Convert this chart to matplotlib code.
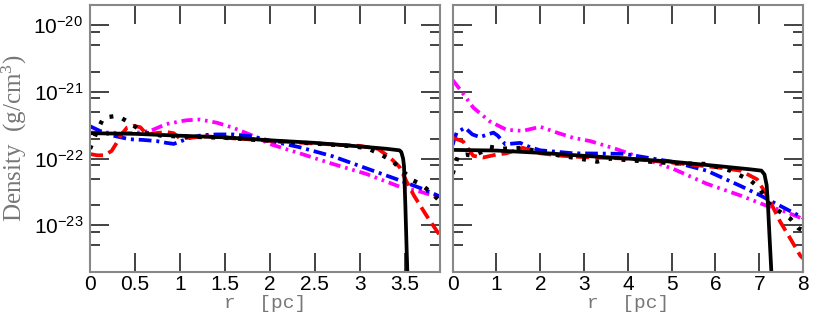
import matplotlib
matplotlib.use("Agg")
import matplotlib.pyplot as plt
from matplotlib.ticker import (FixedLocator, MultipleLocator, FormatStrFormatter,
                               NullFormatter, LogFormatterMathtext)

# ---------------- data: left panel ----------------
solid_L_r = [0, 0.5, 1.0, 1.5, 2.0, 2.5, 3.0, 3.3, 3.44, 3.46, 3.48, 3.49, 3.505, 3.52, 3.53]
solid_L_rho = [2.4e-22, 2.35e-22, 2.2e-22, 2.08e-22, 1.88e-22, 1.72e-22, 1.52e-22, 1.4e-22,
               1.33e-22, 1.25e-22, 1.0e-22, 7.7e-23, 2e-23, 4e-24, 1.5e-24]

dotted_L_r = [0, 0.03, 0.07, 0.15, 0.26, 0.33, 0.43, 0.52, 0.6, 0.8, 1.0, 1.5, 2.0, 2.5, 2.8,
              3.07, 3.22, 3.37, 3.44, 3.59, 3.67, 3.78, 3.89]
dotted_L_rho = [1.4e-22, 1.75e-22, 2.45e-22, 4.1e-22, 4.3e-22, 4.2e-22, 3.5e-22, 2.9e-22, 2.45e-22,
                2.2e-22, 2.15e-22, 2.05e-22, 1.85e-22, 1.68e-22, 1.58e-22, 1.45e-22, 1.18e-22,
                9e-23, 7.2e-23, 4.7e-23, 4.2e-23, 3.2e-23, 2.3e-23]

red_L_r = [0, 0.08, 0.16, 0.24, 0.3, 0.35, 0.41, 0.48, 0.56, 0.63, 0.72, 0.85, 0.93, 1.0, 1.1,
           1.3, 1.5, 2.0, 2.5, 2.8, 3.0, 3.2, 3.33, 3.44, 3.52, 3.6, 3.74, 3.89]
red_L_rho = [1.17e-22, 1.12e-22, 1.12e-22, 1.3e-22, 1.75e-22, 2.3e-22, 2.9e-22, 3.1e-22, 2.95e-22,
             2.3e-22, 2.4e-22, 2.5e-22, 2.4e-22, 2.0e-22, 2.05e-22, 2.15e-22, 2.05e-22, 1.85e-22,
             1.68e-22, 1.6e-22, 1.55e-22, 1.4e-22, 1.05e-22, 7.5e-23, 4.5e-23, 2.8e-23, 1.4e-23, 7e-24]

blue_L_r = [0, 0.11, 0.26, 0.44, 0.6, 0.74, 0.85, 0.93, 1.0, 1.11, 1.25, 1.41, 1.59, 1.81, 2.0,
            2.33, 2.7, 3.04, 3.41, 3.7, 3.89]
blue_L_rho = [3.05e-22, 2.6e-22, 2.2e-22, 1.95e-22, 1.9e-22, 1.83e-22, 1.72e-22, 1.66e-22,
              1.8e-22, 2.05e-22, 2.25e-22, 2.3e-22, 2.3e-22, 2.15e-22, 1.85e-22, 1.48e-22,
              1.08e-22, 7.4e-23, 4.9e-23, 3.5e-23, 2.7e-23]

mag_L_r = [0, 0.22, 0.48, 0.67, 0.85, 1.07, 1.22, 1.41, 1.59, 1.81, 2.0, 2.33, 2.7, 3.07,
           3.44, 3.67, 3.89]
mag_L_rho = [2.45e-22, 2.45e-22, 2.4e-22, 2.6e-22, 3.3e-22, 3.75e-22, 3.85e-22, 3.45e-22,
             2.9e-22, 2.2e-22, 1.65e-22, 1.2e-22, 8.3e-23, 5.9e-23, 3.8e-23, 3.2e-23, 2.6e-23]

# ---------------- data: right panel ----------------
solid_R_r = [0, 1, 2, 3, 4, 5, 6, 6.8, 7.05, 7.12, 7.17, 7.2, 7.23, 7.27, 7.3]
solid_R_rho = [1.35e-22, 1.32e-22, 1.22e-22, 1.1e-22, 1.0e-22, 9e-23, 7.8e-23, 6.9e-23,
               6.6e-23, 5.8e-23, 4e-23, 2e-23, 8e-24, 2.5e-24, 1e-24]

dotted_R_r = [0, 0.05, 0.12, 0.3, 0.47, 0.65, 0.85, 1.1, 1.6, 2.0, 2.5, 3.06, 3.3, 3.6, 3.98,
              4.5, 5.04, 5.8, 6.34, 6.8, 6.99, 7.25, 7.71, 7.9, 8.0]
dotted_R_rho = [5.9e-23, 7.8e-23, 1.1e-22, 1.15e-22, 1.1e-22, 1.25e-22, 1.5e-22, 1.4e-22,
                1.45e-22, 1.25e-22, 1.1e-22, 9.6e-23, 9.0e-23, 1.0e-22, 9.5e-23, 9e-23, 8.5e-23,
                8.3e-23, 6.6e-23, 4.7e-23, 3.7e-23, 2.0e-23, 1.26e-23, 9e-24, 8.5e-24]

red_R_r = [0, 0.1, 0.24, 0.47, 0.7, 1.0, 1.23, 1.6, 2.0, 2.5, 3.0, 4.0, 5.0, 6.03, 6.57, 6.95,
           7.18, 7.48, 7.7, 7.94, 8.0]
red_R_rho = [2.05e-22, 1.95e-22, 1.8e-22, 1.1e-22, 1.04e-22, 1.15e-22, 1.2e-22, 1.45e-22,
             1.2e-22, 1.1e-22, 1.05e-22, 1.0e-22, 8.7e-23, 7.4e-23, 6.6e-23, 4.9e-23, 2.8e-23,
             1.13e-23, 6.5e-24, 3.5e-24, 3.2e-24]

blue_R_r = [0, 0.03, 0.09, 0.28, 0.45, 0.62, 0.8, 0.93, 1.03, 1.2, 1.54, 1.77, 2.0, 2.76, 3.9,
            5.04, 5.8, 6.57, 7.03, 7.33, 8.0]
blue_R_rho = [1.6e-22, 1.9e-22, 2.45e-22, 2.9e-22, 2.3e-22, 2.1e-22, 2.3e-22, 2.45e-22, 2.2e-22,
              1.64e-22, 1.72e-22, 1.48e-22, 1.33e-22, 1.2e-22, 1.18e-22, 8.9e-23, 6.6e-23,
              3.9e-23, 2.8e-23, 2.2e-23, 1.3e-23]

mag_R_r = [0, 0.17, 0.47, 0.85, 1.23, 1.6, 2.0, 2.38, 2.75, 3.14, 3.75, 4.28, 5.04, 5.8, 6.57,
           7.14, 7.6, 8.0]
mag_R_rho = [1.5e-21, 1.08e-21, 5.8e-22, 3.6e-22, 2.7e-22, 2.6e-22, 3.0e-22, 2.45e-22, 2.05e-22,
             1.83e-22, 1.38e-22, 1.04e-22, 7e-23, 4.2e-23, 2.8e-23, 2.0e-23, 1.6e-23, 1.25e-23]

xlim_L = (0, 3.89)
xlim_R = (0, 8)
ylim = (2e-24, 2e-20)
y_major = [1e-23, 1e-22, 1e-21, 1e-20]
y_minor = [m * 10.0 ** e for e in range(-24, -19) for m in (2, 5, 8)]

# ---------------- figure ----------------
plt.rcParams['mathtext.default'] = 'regular'
plt.rcParams['font.family'] = ['Liberation Sans', 'DejaVu Sans']

fig = plt.figure(figsize=(8.3, 3.17), dpi=100)
axL = fig.add_axes([90/830, 1-272/317, 350/830, 267/317])
axR = fig.add_axes([452.7/830, 1-272/317, 350.3/830, 267/317])

LW = 2.7
styles = dict(
    solid=dict(color='black', linestyle='-', lw=LW),
    dotted=dict(color='black', linestyle=(0, (0.9, 2.2)), lw=LW + 0.4),
    red=dict(color='#ff0000', linestyle=(0, (3.5, 1.6)), lw=LW),
    blue=dict(color='#0000ff', linestyle=(0, (3.4, 1.3, 0.8, 1.3)), lw=LW),
    mag=dict(color='#ff00ff', linestyle=(0, (3.0, 1.3, 0.7, 1.3, 0.7, 1.3)), lw=LW),
)

def draw(ax, series):
    for key, r, rho in series:
        ax.plot(r, rho, solid_capstyle='butt', dash_capstyle='butt', **styles[key])

draw(axL, [('mag', mag_L_r, mag_L_rho), ('blue', blue_L_r, blue_L_rho),
           ('red', red_L_r, red_L_rho), ('dotted', dotted_L_r, dotted_L_rho),
           ('solid', solid_L_r, solid_L_rho)])
draw(axR, [('mag', mag_R_r, mag_R_rho), ('blue', blue_R_r, blue_R_rho),
           ('red', red_R_r, red_R_rho), ('dotted', dotted_R_r, dotted_R_rho),
           ('solid', solid_R_r, solid_R_rho)])

for ax, xl, step in [(axL, xlim_L, 0.5), (axR, xlim_R, 1)]:
    ax.set_yscale('log')
    ax.set_xlim(*xl)
    ax.set_ylim(*ylim)
    ax.xaxis.set_major_locator(MultipleLocator(step))
    ax.xaxis.set_major_formatter(FormatStrFormatter('%g'))
    ax.yaxis.set_major_locator(FixedLocator(y_major))
    ax.yaxis.set_major_formatter(LogFormatterMathtext())
    ax.yaxis.set_minor_locator(FixedLocator(y_minor))
    ax.yaxis.set_minor_formatter(NullFormatter())
    ax.tick_params(axis='both', which='major', direction='in', length=14, width=1.2,
                   top=True, right=True, labelsize=15, color='#222222')
    ax.tick_params(axis='y', which='minor', direction='in', length=7, width=1.2,
                   left=True, right=True, color='#222222')
    ax.tick_params(axis='x', which='major', pad=2)
    ax.tick_params(axis='y', which='major', pad=5)
    for s in ax.spines.values():
        s.set_color('#888888')
        s.set_linewidth(1.5)
    ax.set_xlabel('r  [pc]', family='Liberation Mono', fontsize=14, color='#777777', labelpad=1)

axR.tick_params(axis='y', which='both', labelleft=False)
axL.set_ylabel('Density  (g/cm$^3$)', family='Liberation Serif', fontsize=18,
               color='#777777', labelpad=3)

fig.savefig('out.png', dpi=100)
